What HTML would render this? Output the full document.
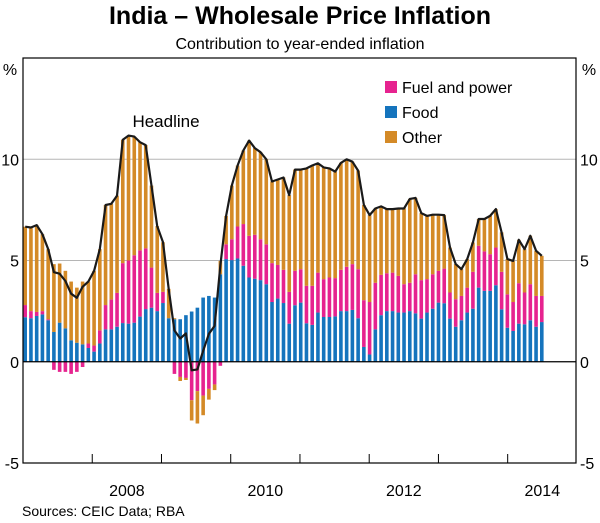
<!DOCTYPE html>
<html><head><meta charset="utf-8"><style>
body{margin:0;background:#fff;width:600px;height:523px;overflow:hidden;font-family:"Liberation Sans",Arial,sans-serif}
svg{display:block}
text{font-family:"Liberation Sans",Arial,sans-serif;fill:#000}
</style></head><body>
<svg id="chart" width="600" height="523">
<text x="300" y="24" text-anchor="middle" font-size="25" font-weight="bold">India – Wholesale Price Inflation</text>
<text x="300" y="49" text-anchor="middle" font-size="16">Contribution to year-ended inflation</text>
<g id="grid"></g>
<g id="bars"></g>
<g id="axes"></g>
<text x="166" y="127" text-anchor="middle" font-size="17">Headline</text>
<g>
<rect x="385" y="81" width="12" height="12" fill="#e6238f"/>
<text x="402" y="93" font-size="16">Fuel and power</text>
<rect x="385" y="106" width="12" height="12" fill="#1574bd"/>
<text x="402" y="118" font-size="16">Food</text>
<rect x="385" y="131" width="12" height="12" fill="#d48a27"/>
<text x="402" y="143" font-size="16">Other</text>
</g>
<text x="22" y="516" font-size="14">Sources:  CEIC Data; RBA</text>
</svg>
<script>
const food=[2.2,2.15,2.26,2.34,2.05,1.47,1.93,1.65,1.06,0.94,0.86,0.68,0.5,0.9,1.6,1.6,1.73,1.91,1.88,1.93,2.23,2.6,2.67,2.5,2.9,2.15,2.1,2.1,2.3,2.48,2.67,3.17,3.25,3.17,4.32,5.07,5.02,5.1,4.74,4.16,4.1,4.03,3.83,2.95,3.12,2.9,1.88,2.79,2.92,1.9,1.82,2.43,2.21,2.21,2.24,2.5,2.5,2.56,2.15,0.73,0.36,1.6,2.3,2.5,2.5,2.43,2.43,2.5,2.39,2.13,2.43,2.62,2.92,2.89,2.13,1.73,2.05,2.43,2.62,3.66,3.5,3.5,3.78,2.59,1.68,1.52,1.88,1.85,2.05,1.73,1.96];
const fuel=[0.6,0.35,0.2,0.16,0.05,-0.4,-0.5,-0.5,-0.6,-0.5,-0.26,0.22,0.3,0.65,1.2,1.47,1.67,2.96,3.12,3.33,3.27,3.0,1.98,0.9,0.55,0,-0.6,-0.75,-0.8,-1.9,-1.45,-1.67,-1.34,-1.12,-0.2,0.73,1.03,1.58,2.06,2.06,2.17,2.02,1.97,1.92,1.66,1.64,1.57,1.7,1.65,1.85,1.93,1.97,1.87,1.95,1.89,2.04,2.19,2.26,2.42,2.31,2.59,2.3,1.99,1.87,1.9,1.81,1.4,1.4,1.93,1.9,1.65,1.7,1.57,1.71,1.29,1.36,1.2,1.23,1.82,2.07,1.95,1.81,1.86,1.85,1.65,1.43,2.0,1.57,1.78,1.52,1.29];
const other=[3.87,4.13,4.29,3.8,3.46,3.35,2.92,2.84,2.9,2.72,3.1,3.06,3.69,4.01,4.94,4.73,4.8,6.09,6.17,5.86,5.34,5.1,4.05,3.3,2.45,1.45,0.05,-0.2,-0.1,-1.0,-1.6,-0.97,-0.53,-0.28,0.66,1.4,2.65,3.01,3.63,4.7,4.28,4.3,4.2,4.03,4.22,4.56,4.78,5.0,4.92,5.8,5.94,5.4,5.52,5.39,5.26,5.28,5.31,5.06,4.87,4.7,4.29,3.67,3.38,3.17,3.14,3.33,3.74,4.14,3.77,3.31,3.12,2.94,2.77,2.64,2.22,1.73,1.32,1.41,1.45,1.32,1.6,1.89,1.9,1.95,1.74,2.03,2.14,2.14,2.39,2.23,1.98];
const yTicks=[-5,0,5,10];
const xYears=["2008","2010","2012","2014"];
const NS="http://www.w3.org/2000/svg";
const L=23,R=576,T=58,B=463,yMin=-5,yMax=15;
function y(v){return B-(v-yMin)*(B-T)/(yMax-yMin);}
const monthW=5.77;
function x(i){return L+2.2+i*5.74;}
function mk(tag,attrs,parent){const e=document.createElementNS(NS,tag);for(const k in attrs)e.setAttribute(k,attrs[k]);parent.appendChild(e);return e;}
const grid=document.getElementById('grid'),bars=document.getElementById('bars'),axes=document.getElementById('axes');
yTicks.forEach(t=>{
  if(t!==yMin&&t!==0){const g=mk('line',{x1:L,x2:R,y1:y(t),y2:y(t),stroke:'#b5b5b5','stroke-width':1},grid);
  
  }
  const a=mk('text',{x:L-4,y:y(t)+6,'text-anchor':'end','font-size':16},axes);a.textContent=t;
  
  
  const b=mk('text',{x:R+4,y:y(t)+6,'text-anchor':'start','font-size':16},axes);b.textContent=t;
  
  
});
const cols={food:'#1574bd',fuel:'#e6238f',other:'#d48a27'};
const bw=3.6;
const head=[];
for(let i=0;i<food.length;i++){
  let pos=0,neg=0;
  [['food',food[i]],['fuel',fuel[i]],['other',other[i]]].forEach(([k,v])=>{
    let a,b;
    if(v>=0){a=pos;b=pos+v;pos=b;}else{a=neg;b=neg+v;neg=b;}
    const r=mk('rect',{x:x(i)-bw/2,y:y(Math.max(a,b)),width:bw,height:Math.abs(y(a)-y(b)),fill:cols[k]},bars);
    
    
  });
  head.push(food[i]+fuel[i]+other[i]);
}
const zl=mk('line',{x1:L,x2:R,y1:y(0),y2:y(0),stroke:'#000','stroke-width':1.3},axes);


const hl=mk('path',{d:head.map((v,i)=>(i?'L':'M')+x(i).toFixed(1)+','+y(v).toFixed(1)).join(''),fill:'none',stroke:'#1a1a1a','stroke-width':2.2,'stroke-linejoin':'round'},axes);


const fr=mk('rect',{x:L,y:T,width:R-L,height:B-T,fill:'none',stroke:'#000','stroke-width':1.2},axes);


for(let k=1;k<=7;k++){
  const tx=L+k*12*monthW;
  const tk=mk('line',{x1:tx,x2:tx,y1:B,y2:B-9,stroke:'#000','stroke-width':1},axes);
  
  
}
xYears.forEach((lab,j)=>{
  const tx=L+(12+24*j+6)*monthW;
  const t=mk('text',{x:tx,y:496,'text-anchor':'middle','font-size':16},axes);t.textContent=lab;
  
  
});
[[L-13],[R+13]].forEach(([px],j)=>{
  const t=mk('text',{x:px,y:T+17,'text-anchor':'middle','font-size':16},axes);t.textContent='%';
  
  
});
</script>
</body></html>
